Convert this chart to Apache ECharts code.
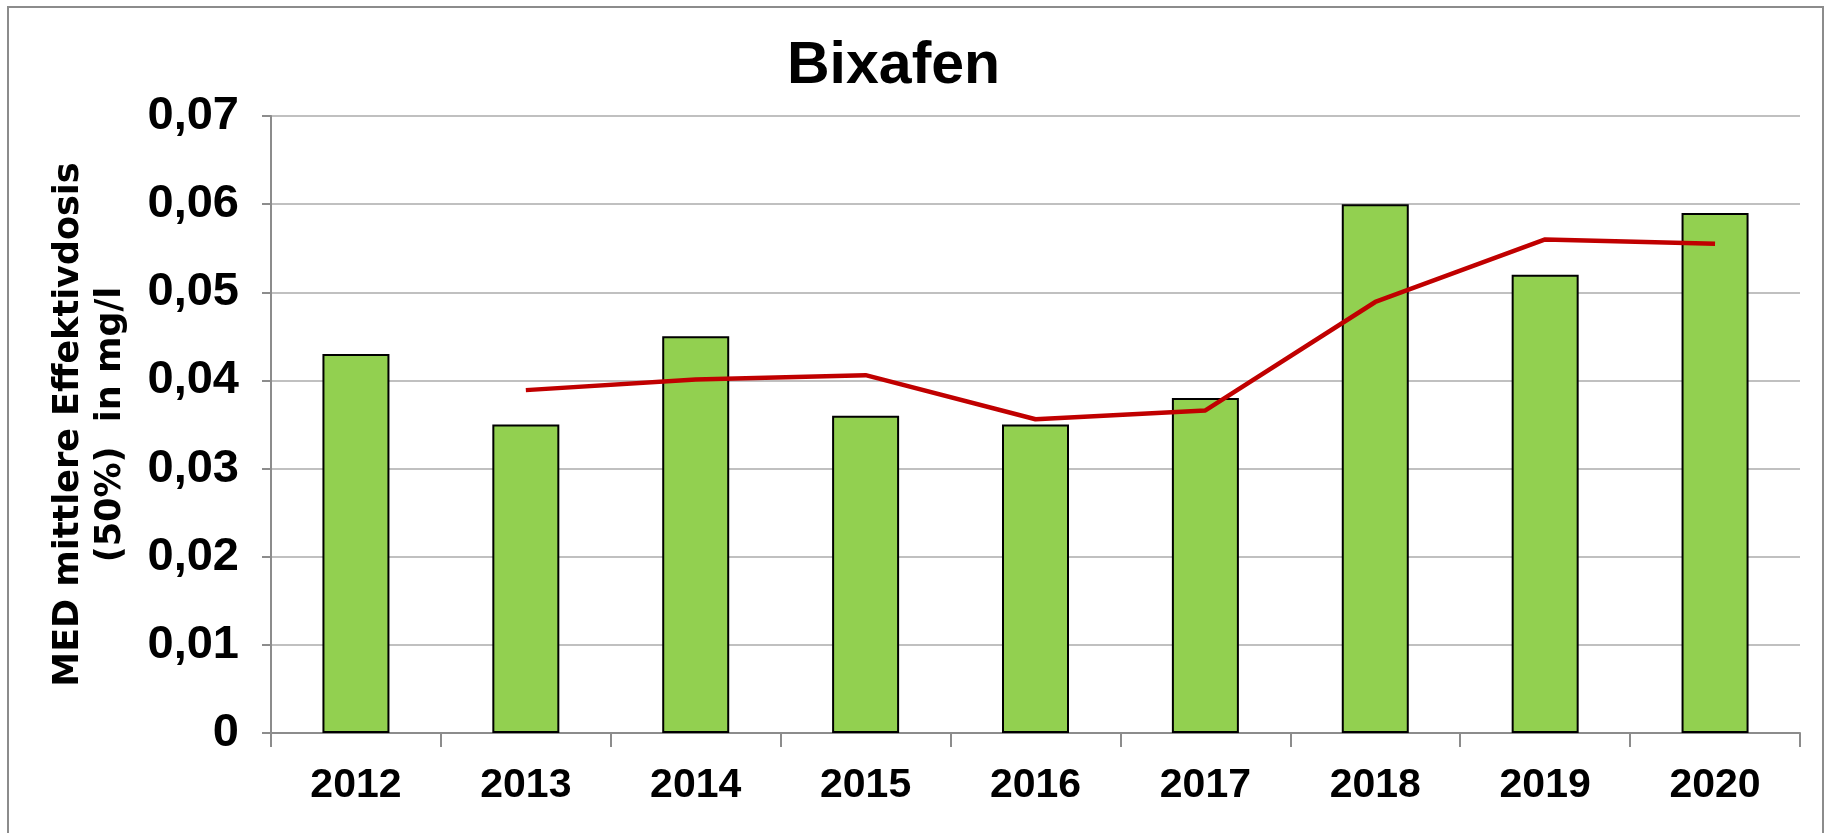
<!DOCTYPE html>
<html>
<head>
<meta charset="utf-8">
<script src="https://cdn.jsdelivr.net/npm/echarts@6/dist/echarts.min.js"></script>
<style>
    body { margin: 0; background: #fff; }
    #chart { width: 1827px; height: 833px; }
</style>
</head>
<body>
<div id="chart"></div>
<script>
// Bixafen - MED per year (bars) and running trend (red line)
var years = ['2012', '2013', '2014', '2015', '2016', '2017', '2018', '2019', '2020'];
var medValues = [0.043, 0.035, 0.045, 0.036, 0.035, 0.038, 0.060, 0.052, 0.059];
var trendValues = [null, 0.0389, 0.0401, 0.0406, 0.0356, 0.0366, 0.0489, 0.0560, 0.0555];

var narrow = "'Liberation Sans Narrow', 'Arial Narrow', 'Liberation Sans', sans-serif";

var chart = echarts.init(document.getElementById('chart'));
chart.setOption({
    animation: false,
    backgroundColor: '#fff',
    title: {
        text: 'Bixafen',
        left: 782,
        top: 32,
        textStyle: {
            fontFamily: narrow,
            fontWeight: 'bold',
            fontSize: 59,
            color: '#000'
        }
    },
    graphic: [{
        type: 'rect',
        shape: {x: 8, y: 7, width: 1815, height: 840},
        style: {fill: 'none', stroke: '#8c8c8c', lineWidth: 2},
        silent: true
    }],
    grid: {
        left: 271,
        right: 27,
        top: 116,
        bottom: 100
    },
    xAxis: {
        type: 'category',
        data: years,
        axisLine: {lineStyle: {color: '#8c8c8c', width: 2}},
        axisTick: {show: true, length: 14, lineStyle: {color: '#8c8c8c', width: 2}},
        axisLabel: {
            margin: 32,
            fontFamily: narrow,
            fontWeight: 'bold',
            fontSize: 41,
            color: '#000'
        }
    },
    yAxis: {
        type: 'value',
        min: 0,
        max: 0.07,
        interval: 0.01,
        name: 'MED mittlere Effektivdosis\n(50%)  in mg/l',
        nameLocation: 'middle',
        nameGap: 139,
        nameTextStyle: {
            fontFamily: "'DejaVu Sans', sans-serif",
            fontWeight: 'bold',
            fontSize: 35,
            lineHeight: 42,
            color: '#000',
            align: 'center'
        },
        axisLine: {show: true, lineStyle: {color: '#8c8c8c', width: 2}},
        axisTick: {show: true, length: 9, lineStyle: {color: '#8c8c8c', width: 2}},
        splitLine: {lineStyle: {color: '#c0c0c0', width: 2}},
        axisLabel: {
            margin: 32,
            fontFamily: narrow,
            fontWeight: 'bold',
            fontSize: 47,
            color: '#000',
            formatter: function (v) {
                var t = Math.round(v * 100) / 100;
                return t === 0 ? '0' : t.toFixed(2).replace('.', ',');
            }
        }
    },
    series: [{
        name: 'MED',
        type: 'bar',
        data: medValues,
        barWidth: 67,
        itemStyle: {
            color: '#92d050',
            borderColor: '#000',
            borderWidth: 2
        }
    }, {
        name: 'Trend',
        type: 'line',
        data: trendValues,
        symbol: 'none',
        connectNulls: false,
        lineStyle: {color: '#c00000', width: 4.5}
    }]
});
</script>
</body>
</html>
